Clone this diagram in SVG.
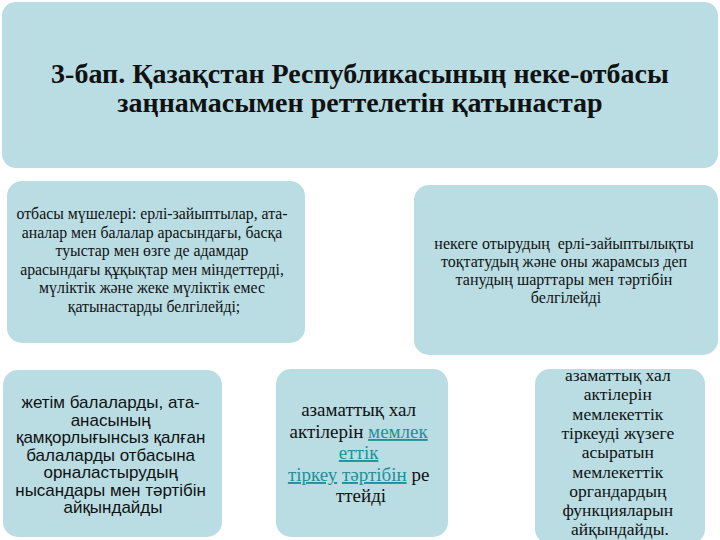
<svg xmlns="http://www.w3.org/2000/svg" width="720" height="540" viewBox="0 0 720 540">
<style>
.box{fill:#b9dde3;stroke:none}
.ser{font-family:"Liberation Serif","Times New Roman",serif;fill:#111;text-anchor:middle}
.san{font-family:"Liberation Sans",Arial,sans-serif;fill:#111;text-anchor:middle}
.ttl{font-family:"Liberation Serif","Times New Roman",serif;font-weight:bold;font-size:28px;fill:#111;text-anchor:middle}
.lnk{fill:#1f8f9c;text-decoration:underline}
</style>
<rect width="720" height="540" fill="#ffffff"/>
<g id="title">
<rect class="box" x="2" y="2" width="716" height="166" rx="14"/>
<text class="ttl" x="360" y="83">3-бап. Қазақстан Республикасының неке-отбасы</text>
<text class="ttl" x="360" y="112">заңнамасымен реттелетін қатынастар</text>
</g>
<g id="n1">
<rect class="box" x="7" y="181" width="298" height="162" rx="15"/>
<text class="ser" font-size="15.8">
<tspan x="154" y="219">отбасы мүшелері: ерлі-зайыптылар, ата-</tspan>
<tspan x="154" y="237.5">аналар мен балалар арасындағы, басқа</tspan>
<tspan x="154" y="256">туыстар мен өзге де адамдар</tspan>
<tspan x="154" y="274.5">арасындағы құқықтар мен міндеттерді,</tspan>
<tspan x="154" y="293">мүліктік және жеке мүліктік емес</tspan>
<tspan x="154" y="311.5">қатынастарды белгілейді;</tspan>
</text>
</g>
<g id="n2">
<rect class="box" x="414" y="185" width="304" height="170" rx="15"/>
<text class="ser" font-size="16">
<tspan x="566" y="249">некеге отырудың&#160; ерлі-зайыптылықты</tspan>
<tspan x="566" y="267">тоқтатудың және оны жарамсыз деп</tspan>
<tspan x="566" y="285">танудың шарттары мен тәртібін</tspan>
<tspan x="566" y="303">белгілейді</tspan>
</text>
</g>
<g id="n3">
<rect class="box" x="3" y="370" width="219" height="167" rx="15"/>
<text class="san" font-size="17">
<tspan x="113" y="408">жетім балаларды, ата-</tspan>
<tspan x="113" y="425.5">анасының</tspan>
<tspan x="113" y="443">қамқорлығынсыз қалған</tspan>
<tspan x="113" y="460.5">балаларды отбасына</tspan>
<tspan x="113" y="478">орналастырудың</tspan>
<tspan x="113" y="495.5">нысандары мен тәртібін</tspan>
<tspan x="113" y="513">айқындайды</tspan>
</text>
</g>
<g id="n4">
<rect class="box" x="276" y="369" width="172" height="168" rx="15"/>
<text class="ser" font-size="19">
<tspan x="361" y="416">азаматтық хал</tspan>
<tspan x="361" y="438">актілерін <tspan class="lnk">мемлек</tspan></tspan>
<tspan x="361" y="459" class="lnk">еттік</tspan>
<tspan x="361" y="481"><tspan class="lnk">тіркеу</tspan> <tspan class="lnk">тәртібін</tspan> ре</tspan>
<tspan x="361" y="502">ттейді</tspan>
</text>
</g>
<g id="n5">
<rect class="box" x="535" y="369" width="170" height="175" rx="15"/>
<text class="ser" font-size="17.5">
<tspan x="620" y="381">азаматтық хал</tspan>
<tspan x="620" y="400.3">актілерін</tspan>
<tspan x="620" y="419.6">мемлекеттік</tspan>
<tspan x="620" y="438.9">тіркеуді жүзеге</tspan>
<tspan x="620" y="458.2">асыратын</tspan>
<tspan x="620" y="477.5">мемлекеттік</tspan>
<tspan x="620" y="496.8">органдардың</tspan>
<tspan x="620" y="516.1">функцияларын</tspan>
<tspan x="620" y="535.4">айқындайды.</tspan>
</text>
</g>
<g id="connectors"></g>
</svg>
